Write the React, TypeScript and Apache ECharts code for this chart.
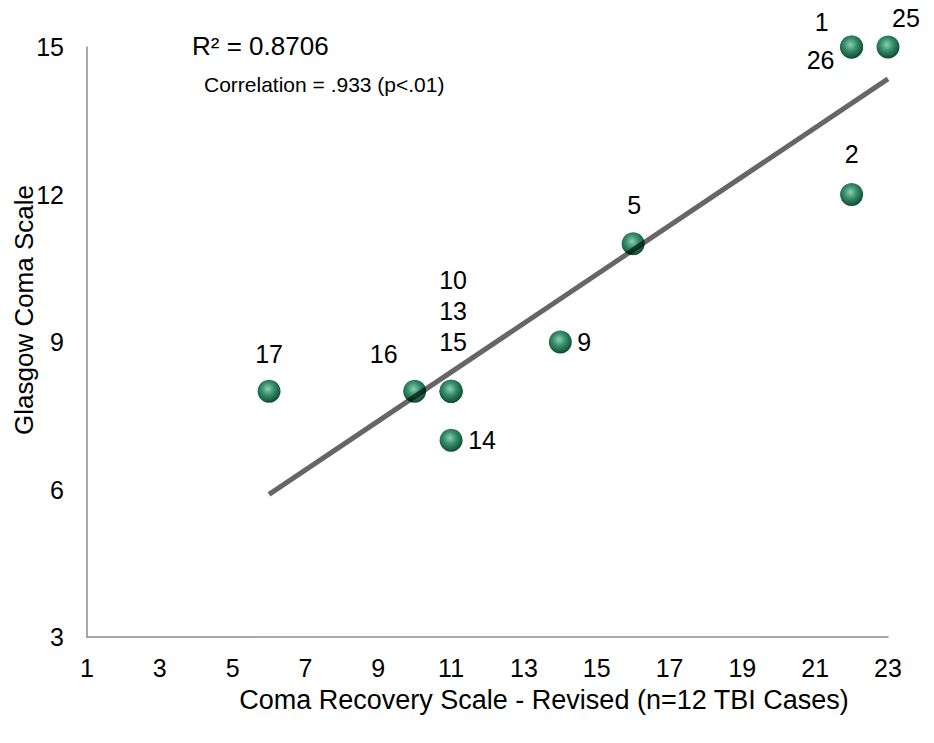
import React, { useEffect, useRef } from "react";
import * as echarts from "echarts";

const crsR = [22, 22, 23, 22, 16, 14, 11, 11, 11, 10, 6, 11];
const gcs = [15, 15, 15, 12, 11, 9, 8, 8, 8, 8, 8, 7];
const caseIds = ["1", "26", "25", "2", "5", "9", "10", "13", "15", "16", "17", "14"];
const labelOffsets = [
  [-30, -25], [-31, 13], [18, -29], [0, -41], [1, -39], [24, 0],
  [2, -111], [2, -80], [2, -49], [-31, -37], [0, -37], [31, 0],
];
const xTicks = { min: 1, max: 23, interval: 2 };
const yTicks = { min: 3, max: 15, interval: 3 };
const r2Text = "R² = 0.8706";
const corrText = "Correlation = .933 (p<.01)";
const xName = "Coma Recovery Scale - Revised (n=12 TBI Cases)";
const yName = "Glasgow Coma Scale";

function regression(xs: number[], ys: number[]) {
  const n = xs.length;
  const mx = xs.reduce((a, b) => a + b, 0) / n;
  const my = ys.reduce((a, b) => a + b, 0) / n;
  let sxy = 0, sxx = 0;
  for (let i = 0; i < n; i++) {
    sxy += (xs[i] - mx) * (ys[i] - my);
    sxx += (xs[i] - mx) ** 2;
  }
  const slope = sxy / sxx;
  return { slope, intercept: my - slope * mx };
}

export default function App() {
  const ref = useRef<HTMLDivElement>(null);
  useEffect(() => {
    if (!ref.current) return;
    const chart = echarts.init(ref.current, null, { renderer: "svg" });
    const { slope, intercept } = regression(crsR, gcs);
    const xMin = Math.min(...crsR);
    const xMax = Math.max(...crsR);
    const font = "Liberation Sans, Arial, sans-serif";
    const sphere = new echarts.graphic.RadialGradient(0.45, 0.4, 0.6, [
      { offset: 0, color: "#8fcfb1" },
      { offset: 0.45, color: "#38906d" },
      { offset: 1, color: "#104a33" },
    ]);
    chart.setOption({
      animation: false,
      textStyle: { fontFamily: font },
      grid: { left: 87, right: 46, top: 47, bottom: 106, containLabel: false },
      xAxis: {
        type: "value",
        ...xTicks,
        axisLine: { show: true, lineStyle: { color: "#8c8c8c", width: 1.5 } },
        axisTick: { show: false },
        splitLine: { show: false },
        axisLabel: { fontSize: 25, color: "#000", margin: 18, fontFamily: font },
      },
      yAxis: {
        type: "value",
        ...yTicks,
        axisLine: { show: true, lineStyle: { color: "#8c8c8c", width: 1.5 } },
        axisTick: { show: false },
        splitLine: { show: false },
        axisLabel: { fontSize: 25, color: "#000", margin: 23, fontFamily: font },
      },
      series: [
        {
          type: "scatter",
          symbol: "circle",
          symbolSize: 23,
          z: 2,
          itemStyle: { color: sphere, opacity: 1 },
          data: crsR.map((x, i) => ({
            value: [x, gcs[i]],
            label: {
              show: true,
              formatter: caseIds[i],
              position: "inside",
              offset: labelOffsets[i],
              fontSize: 25,
              color: "#000",
              fontFamily: font,
            },
          })),
        },
        {
          type: "line",
          z: 3,
          symbol: "none",
          silent: true,
          lineStyle: { color: "rgba(0,0,0,0.6)", width: 5 },
          data: [
            [xMin, slope * xMin + intercept],
            [xMax, slope * xMax + intercept],
          ],
        },
      ],
      graphic: [
        {
          type: "text",
          x: 192,
          y: 46,
          style: { text: r2Text, fontSize: 26, fill: "#000", fontFamily: font, verticalAlign: "middle" },
        },
        {
          type: "text",
          x: 204,
          y: 84,
          style: { text: corrText, fontSize: 21, fill: "#000", fontFamily: font, verticalAlign: "middle" },
        },
        {
          type: "text",
          x: 544,
          y: 700,
          style: { text: xName, fontSize: 27, fill: "#000", fontFamily: font, align: "center", verticalAlign: "middle" },
        },
        {
          type: "text",
          x: 24,
          y: 310,
          rotation: Math.PI / 2,
          style: { text: yName, fontSize: 26, fill: "#000", fontFamily: font, align: "center", verticalAlign: "middle" },
        },
      ],
    });
    return () => chart.dispose();
  }, []);
  return <div ref={ref} style={{ width: 934, height: 743, margin: -8 }} />;
}
